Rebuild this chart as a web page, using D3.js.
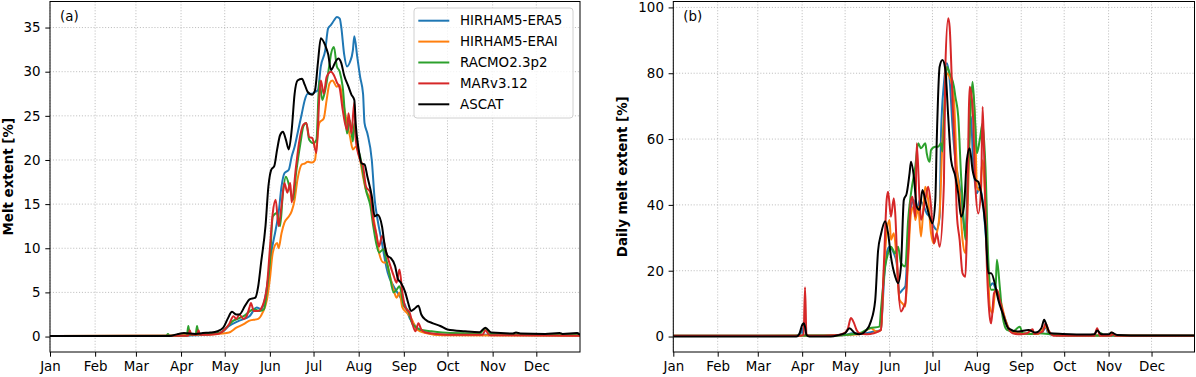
<!DOCTYPE html>
<html>
<head>
<meta charset="utf-8">
<script src="https://cdn.jsdelivr.net/npm/d3@7"></script>
<style>
    body { margin: 0; background: #fff; }
    svg { display: block; font-family: "DejaVu Sans", sans-serif; }
    .grid line { stroke: #b0b0b0; stroke-width: 0.8; stroke-dasharray: 1.1,1.8; }
    .tick text { font-size: 13.4px; fill: #000; }
    .tick line { stroke: #000; stroke-width: 1; }
</style>
</head>
<body>
<script>
//month ticks (day of year) and labels
var monthDays = [0, 31, 59, 90, 120, 151, 181, 212, 243, 273, 304, 334];
var monthNames = ["Jan", "Feb", "Mar", "Apr", "May", "Jun", "Jul", "Aug", "Sep", "Oct", "Nov", "Dec"];
var seriesNames = ["HIRHAM5-ERA5", "HIRHAM5-ERAI", "RACMO2.3p2", "MARv3.12", "ASCAT"];
var seriesColors = ["#1f77b4", "#ff7f0e", "#2ca02c", "#d62728", "#000000"];

//panel (a): melt extent [%], [day, value]
var cumEra5 = [[0,0.05],[60,0.05],[90,0.1],[100,0.15],[110,0.25],[117,0.4],[123,1.2],[130,1.8],[137,2.3],[142,3.3],[145,3.1],[148,4.6],[150,6.8],[152,9.5],[155,12.1],[157,14],[159,17],[161,18.5],[164,18.9],[166,20.4],[168,21.5],[170,23],[173,25.3],[175,26.8],[177,27.5],[180,27.5],[182,27.7],[184,27.9],[186,30.6],[189,32.4],[191,34.9],[193,35.3],[195,35.8],[197,36.2],[199,36],[200,35.1],[202,32],[204,30.6],[206,31.1],[208,32.4],[209,34],[211,31.7],[213,29.4],[215,27.5],[216,24.2],[218,23],[221,20],[223,15.5],[225,13.2],[228,10.6],[230,8.7],[232,7.2],[236,5.7],[240,4.6],[244,3.5],[247,2.1],[252,1],[258,0.45],[270,0.2],[300,0.2],[364,0.1]];
var cumErai = [[0,0.05],[80,0.1],[100,0.2],[115,0.3],[123,0.45],[128,1],[133,1.4],[137,1.8],[143,2],[146,2.7],[149,4.2],[151,6.5],[153,9.5],[156,10.6],[157,10],[159,11.7],[161,12.9],[164,13.6],[166,14.2],[168,15.5],[170,17.8],[173,19.5],[175,19.6],[177,19.8],[180,19.7],[182,20],[183,21.5],[185,24.2],[188,24.7],[190,26.8],[192,28.7],[194,29],[197,28.3],[199,28.5],[201,26.8],[204,24.2],[206,22.7],[208,21.2],[210,21.5],[213,20],[215,18.1],[217,16.6],[220,15.5],[222,13.6],[224,11.7],[226,9.5],[229,8.4],[231,8.4],[233,7.2],[236,5.3],[238,4.4],[240,5],[242,3.3],[245,2.7],[248,2.1],[252,0.8],[258,0.4],[270,0.15],[364,0.1]];
var cumRacmo = [[0,0.05],[80,0.1],[81,0.3],[82,0.1],[94,0.1],[95,1.2],[96,0.2],[100,0.2],[101,1.2],[102,0.3],[110,0.3],[117,0.45],[126,1.8],[133,2.3],[140,3.1],[144,2.9],[147,3.1],[149,5.3],[151,8.4],[153,13.6],[156,14],[158,12.5],[160,16.3],[162,18.1],[165,16.6],[167,15.5],[169,18.5],[172,21.9],[174,23.8],[176,24.2],[178,22.3],[181,21.9],[183,22.3],[185,29],[187,26.8],[189,27.9],[192,30.9],[193,32],[195,32.8],[197,30.6],[199,30],[201,28.3],[204,23],[206,24.5],[208,22.1],[209,24.2],[211,21.5],[213,20.4],[215,18.5],[217,16.6],[220,14.8],[222,12.5],[224,10.6],[226,9.5],[229,9.9],[231,8.7],[233,7.2],[236,5],[238,5.3],[240,5.7],[243,3.5],[246,2.9],[249,1.4],[254,0.8],[262,0.6],[275,0.4],[295,0.35],[299,0.9],[302,0.3],[364,0.2]];
var cumMar = [[0,0.05],[85,0.1],[95,0.1],[96,0.7],[97,0.2],[101,0.2],[102,0.7],[103,0.2],[115,0.3],[120,0.8],[123,1.4],[126,2.3],[128,2],[130,2.5],[133,2],[135,2.3],[137,3.3],[138,3.8],[140,2.9],[143,2.9],[146,3.5],[149,5.7],[151,9.9],[153,14],[155,15.5],[157,12.5],[159,14.8],[161,17.4],[163,16.3],[165,17.4],[166,15.2],[169,19.3],[171,21.9],[174,24],[176,24.2],[178,22.6],[180,22.5],[183,20.8],[185,27.2],[186,29],[188,27.5],[190,29.4],[193,30],[195,29.6],[197,28.8],[199,28.1],[201,25.7],[204,23.4],[205,25.3],[207,23],[209,26.5],[210,22.3],[213,20],[215,19.3],[217,17],[220,16.3],[222,13.2],[224,11.7],[226,10.2],[228,11.4],[231,9.5],[233,8.4],[236,6.9],[238,6.1],[240,7.6],[242,5],[244,3.3],[247,2.7],[249,1.4],[251,0.6],[253,1.5],[255,0.8],[258,0.45],[265,0.3],[280,0.2],[297,0.2],[299,0.7],[302,0.15],[364,0.1]];
var cumAscat = [[0,0.05],[82,0.05],[88,0.3],[92,0.4],[100,0.3],[105,0.4],[110,0.45],[115,0.6],[119,1],[122,2],[125,2.8],[128,2.5],[130,2.5],[134,3.5],[137,4.2],[141,4.4],[143,5.7],[145,8.4],[148,12.5],[150,17],[152,18.9],[154,19.3],[156,21.2],[158,22.8],[160,23.2],[162,22.3],[164,21.2],[166,23.4],[168,27.5],[170,29],[173,29.2],[175,28.5],[177,27.7],[180,27.4],[182,27.9],[184,31],[186,33.8],[189,33],[191,32],[193,30.2],[196,31.1],[198,31.5],[200,31],[202,29.6],[205,28.3],[207,27.4],[209,26.8],[210,24],[212,21.2],[214,19.6],[216,19.5],[218,18.1],[221,15.9],[223,13.6],[225,13.8],[228,12.5],[230,10.2],[232,9.1],[234,8.9],[237,8],[239,6.5],[241,6.1],[244,5],[246,3.8],[248,2.9],[250,3.1],[253,3.5],[255,2.5],[258,1.9],[263,1.5],[268,1.2],[273,0.8],[285,0.6],[295,0.5],[299,1],[303,0.45],[318,0.35],[320,0.45],[323,0.35],[340,0.3],[350,0.4],[352,0.3],[362,0.4],[364,0.2]];

//panel (b): daily melt extent [%]
var dailyEra5 = [[0,0.2],[85,0.2],[89,1],[90,2.5],[91,0.3],[110,0.3],[120,0.5],[125,1],[130,0.8],[140,1.5],[145,2],[146,8],[147,16],[149,25.3],[151,27.3],[154,25.3],[156,22.3],[158,13.2],[160,14.2],[162,15.2],[164,29.4],[166,39.5],[168,41.5],[170,37.4],[172,41.5],[175,39.5],[177,37.4],[179,36.4],[182,33.4],[184,32.4],[186,36.4],[187,61.7],[189,76.9],[191,83],[193,78],[195,63.8],[197,53.6],[200,45.5],[202,37.4],[204,31.4],[206,51.6],[208,66.8],[209,56.7],[212,43.5],[214,45.5],[216,41.5],[219,26.3],[221,15.2],[223,16.2],[226,13.2],[229,9.1],[232,5],[235,2],[240,1],[250,0.8],[258,1.5],[260,3],[262,0.8],[275,0.3],[364,0.2]];
var dailyErai = [[0,0.2],[110,0.3],[120,0.5],[130,0.7],[138,2.5],[142,1.5],[145,2],[147,19.2],[149,31.4],[151,35.4],[152,29.4],[154,31.4],[156,23.3],[158,11.1],[160,10.1],[162,9.1],[164,23.3],[166,37.4],[168,39.5],[169,35.4],[171,39.5],[173,30.4],[175,41.5],[176,45.5],[178,41.5],[180,31.4],[182,28.3],[184,31.4],[186,37.4],[188,59.7],[190,73.9],[191,80],[193,79],[196,71.9],[198,51.6],[200,43.5],[202,29.4],[204,25.3],[206,45.5],[208,73.9],[209,74.9],[211,61.7],[212,45.5],[214,44.5],[216,53.6],[218,39.5],[220,18.2],[221,9.1],[223,7.1],[225,14.2],[227,13.2],[229,10.1],[232,5],[235,2],[240,1],[255,0.8],[260,3],[263,0.8],[280,0.3],[305,0.3],[306,1.2],[308,0.3],[364,0.2]];
var dailyRacmo = [[0,0.2],[110,0.3],[120,0.5],[130,1],[137,2.5],[144,3],[145,8],[148,21.3],[150,25.3],[152,27.3],[155,25.3],[157,27.3],[159,22.3],[162,21.3],[164,35.4],[166,43.5],[169,51.6],[171,58.7],[173,57.2],[176,58.7],[177,55.7],[179,53.1],[180,56.7],[183,57.7],[185,57.7],[187,58.7],[188,56.2],[190,75.9],[191,82],[193,80],[196,75.9],[197,72.9],[199,66.8],[201,48.6],[202,41.5],[204,29.4],[206,51.6],[208,71.9],[209,77.4],[211,63.8],[212,55.7],[214,59.7],[216,64.8],[218,51.6],[220,23.3],[222,14.2],[225,14.2],[226,23.3],[228,15.2],[230,6],[233,2],[237,1.5],[242,3],[244,1],[250,0.8],[255,1],[262,0.8],[270,0.3],[298,0.3],[299,1],[300,0.3],[364,0.2]];
var dailyMar = [[0,0.2],[88,0.2],[91,0.5],[92,15],[93,0.5],[95,0.2],[115,0.5],[120,1.2],[122,2.5],[124,5.6],[126,4.3],[128,2],[130,1],[135,0.7],[140,1],[143,1.5],[145,2],[147,21],[149,41.5],[150,44],[152,36.4],[154,42],[155,37.4],[157,16.2],[159,7.6],[161,9.1],[162,10.1],[164,25.3],[166,41.5],[167,42.5],[169,36.4],[170,58.7],[172,41.5],[173,35.4],[176,41.5],[178,45.5],[180,39.5],[182,28.3],[184,31.4],[186,27.3],[189,46.6],[190,82],[192,96.7],[193,94],[195,71.9],[197,51.6],[198,37.4],[200,29.3],[202,19.2],[204,18.2],[205,31.4],[207,75.9],[209,69.8],[211,45.5],[213,37.4],[215,45.5],[216,69.8],[217,56.7],[219,21.3],[221,6],[222,4],[224,13.2],[226,14.2],[228,11.1],[231,6],[234,2.5],[237,1],[242,0.7],[247,1],[251,2.2],[252,0.8],[258,1.5],[260,4],[262,2],[266,0.2],[294,0.2],[296,2.5],[298,0.2],[306,0.3],[307,1],[309,0.2],[364,0.2]];
var dailyAscat = [[0,0],[86,0],[88,0.8],[90,3.5],[91,4],[92,3],[93,0.5],[95,0],[110,0],[116,0.5],[120,1],[123,2.5],[127,1],[130,0.7],[135,2],[138,4.6],[141,11],[143,26],[145,31],[148,35],[150,31.4],[152,24.3],[155,18.2],[157,16.2],[159,21.3],[161,41.5],[163,43.5],[165,49.6],[166,53.1],[168,48.6],[170,39.5],[172,38.5],[174,44.5],[176,41.5],[179,36.4],[181,34.4],[183,41.5],[184,59.7],[186,82],[188,84],[190,81],[192,66.8],[194,53.6],[197,48.6],[199,43.5],[201,36.4],[203,39.5],[205,53.6],[207,57.2],[209,50.6],[211,47.6],[213,47],[215,43.5],[218,33.4],[220,19.2],[222,19.2],[225,15.2],[227,11.1],[230,7.1],[234,2.5],[241,1.5],[248,2],[253,1.2],[257,2.5],[259,5.1],[261,3],[263,1],[272,0.8],[289,0.6],[294,0.7],[296,1.8],[299,0.7],[304,0.7],[306,1.2],[310,0.5],[329,0.3],[364,0.3]];

var cumTicks = [0, 5, 10, 15, 20, 25, 30, 35];
var dailyTicks = [0, 20, 40, 60, 80, 100];

//begin script when window loads
window.onload = drawChart();

function drawChart(){

    var width = 1196,
        height = 377;

    var svg = d3.select("body")
        .append("svg")
        .attr("width", width)
        .attr("height", height);

    svg.append("rect")
        .attr("width", width)
        .attr("height", height)
        .attr("fill", "#fff");

    var panels = [
        {tag: "(a)", left: 50, right: 580, top: 1.5, bottom: 352, yDomain: [-1.75, 37.95],
         ticks: cumTicks, label: "Melt extent [%]", labelX: 8,
         data: [cumEra5, cumErai, cumRacmo, cumMar, cumAscat], legend: true},
        {tag: "(b)", left: 673.3, right: 1194.5, top: 1.5, bottom: 352, yDomain: [-4.7, 101.8],
         ticks: dailyTicks, label: "Daily melt extent [%]", labelX: 622,
         data: [dailyEra5, dailyErai, dailyRacmo, dailyMar, dailyAscat], legend: false}
    ];

    panels.forEach(function(p, i){
        drawPanel(svg, p, i);
    });
};

function drawPanel(svg, p, i){
    var x = d3.scaleLinear()
        .domain([0, 364])
        .range([p.left, p.right]);

    var y = d3.scaleLinear()
        .domain(p.yDomain)
        .range([p.bottom, p.top]);

    var g = svg.append("g");

    //dotted grid on month and value ticks
    var grid = g.append("g").attr("class", "grid");
    grid.selectAll(".vx")
        .data(monthDays)
        .enter()
        .append("line")
        .attr("x1", function(d){ return x(d); })
        .attr("x2", function(d){ return x(d); })
        .attr("y1", p.top)
        .attr("y2", p.bottom);
    grid.selectAll(".hy")
        .data(p.ticks)
        .enter()
        .append("line")
        .attr("x1", p.left)
        .attr("x2", p.right)
        .attr("y1", function(d){ return y(d); })
        .attr("y2", function(d){ return y(d); });

    //clip lines to the axes box
    var clipId = "clip" + i;
    svg.append("clipPath")
        .attr("id", clipId)
        .append("rect")
        .attr("x", p.left)
        .attr("y", p.top)
        .attr("width", p.right - p.left)
        .attr("height", p.bottom - p.top);

    var line = d3.line()
        .x(function(d){ return x(d[0]); })
        .y(function(d){ return y(d[1]); })
        .curve(d3.curveMonotoneX);

    g.append("g")
        .attr("clip-path", "url(#" + clipId + ")")
        .selectAll("path")
        .data(p.data)
        .enter()
        .append("path")
        .attr("d", line)
        .attr("fill", "none")
        .attr("stroke", function(d, k){ return seriesColors[k]; })
        .attr("stroke-width", 2)
        .attr("stroke-linejoin", "round");

    //axes
    var xAxis = d3.axisBottom(x)
        .tickValues(monthDays)
        .tickFormat(function(d, k){ return monthNames[k]; })
        .tickSize(4.7)
        .tickPadding(4.7);
    var xg = g.append("g")
        .attr("transform", "translate(0," + p.bottom + ")")
        .call(xAxis);
    xg.select(".domain").remove();
    xg.selectAll("text").attr("dy", "0.72em");

    var yAxis = d3.axisLeft(y)
        .tickValues(p.ticks)
        .tickSize(4.7)
        .tickPadding(4.7);
    var yg = g.append("g")
        .attr("transform", "translate(" + p.left + ",0)")
        .call(yAxis);
    yg.select(".domain").remove();
    g.selectAll(".tick text").attr("font-family", "DejaVu Sans").attr("font-size", 13.4);

    //axes frame
    g.append("rect")
        .attr("x", p.left)
        .attr("y", p.top)
        .attr("width", p.right - p.left)
        .attr("height", p.bottom - p.top)
        .attr("fill", "none")
        .attr("stroke", "#000")
        .attr("stroke-width", 1);

    //y label
    g.append("text")
        .attr("transform", "translate(" + p.labelX + "," + ((p.top + p.bottom) / 2) + ") rotate(-90)")
        .attr("text-anchor", "middle")
        .attr("dominant-baseline", "central")
        .attr("font-size", 13.4)
        .attr("font-weight", "bold")
        .text(p.label);

    //panel tag
    g.append("text")
        .attr("x", p.left + 10)
        .attr("y", 20.5)
        .attr("font-size", 13.4)
        .text(p.tag);

    if (p.legend){
        drawLegend(g);
    };
};

function drawLegend(g){
    var lg = g.append("g");
    lg.append("rect")
        .attr("x", 414)
        .attr("y", 8)
        .attr("width", 159)
        .attr("height", 110)
        .attr("rx", 3)
        .attr("fill", "#fff")
        .attr("fill-opacity", 0.8)
        .attr("stroke", "#d0d0d0")
        .attr("stroke-width", 1);

    var rows = lg.selectAll(".row")
        .data(seriesNames)
        .enter()
        .append("g")
        .attr("transform", function(d, k){ return "translate(0," + (20.7 + k * 20.9) + ")"; });
    rows.append("line")
        .attr("x1", 418.3)
        .attr("x2", 449.3)
        .attr("stroke", function(d, k){ return seriesColors[k]; })
        .attr("stroke-width", 2);
    rows.append("text")
        .attr("x", 460)
        .attr("dominant-baseline", "central")
        .attr("font-size", 13.4)
        .text(function(d){ return d; });
};
</script>
</body>
</html>
